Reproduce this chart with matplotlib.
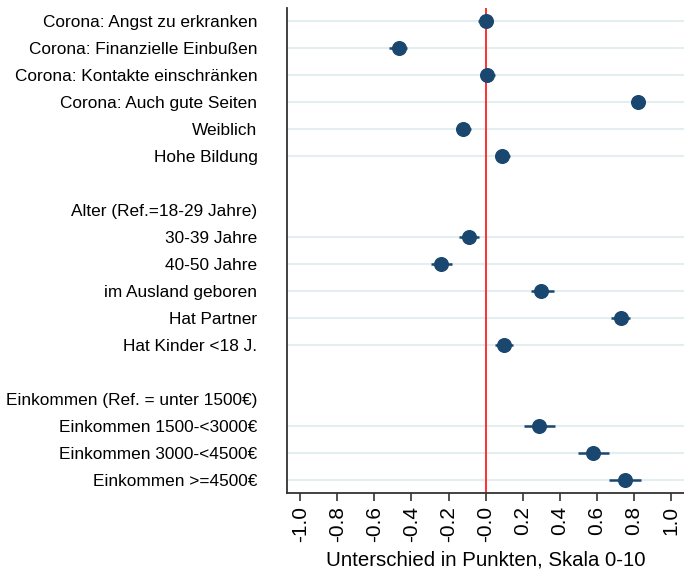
import numpy as np
import matplotlib.pyplot as plt

plt.rcParams['font.family'] = ['Liberation Sans', 'DejaVu Sans']

labels = ['Corona: Angst zu erkranken', 'Corona: Finanzielle Einbußen',
          'Corona: Kontakte einschränken', 'Corona: Auch gute Seiten',
          'Weiblich', 'Hohe Bildung', '',
          'Alter (Ref.=18-29 Jahre)', '30-39 Jahre', '40-50 Jahre',
          'im Ausland geboren', 'Hat Partner', 'Hat Kinder <18 J.', '',
          'Einkommen (Ref. = unter 1500€)', 'Einkommen 1500-<3000€',
          'Einkommen 3000-<4500€', 'Einkommen >=4500€']

# None = header / blank row
coef = [0.00, -0.47, 0.01, 0.82, -0.12, 0.09, None,
        None, -0.09, -0.24, 0.30, 0.73, 0.10, None,
        None, 0.29, 0.58, 0.75]
ci_lo = [-0.04, -0.52, -0.027, 0.785, -0.16, 0.054, None,
         None, -0.142, -0.296, 0.245, 0.675, 0.05, None,
         None, 0.207, 0.50, 0.668]
ci_hi = [0.03, -0.425, 0.05, 0.86, -0.08, 0.129, None,
         None, -0.034, -0.18, 0.37, 0.78, 0.147, None,
         None, 0.374, 0.667, 0.839]

navy = '#1a476f'

fig = plt.figure(figsize=(6.84, 5.70), dpi=100)
ax = fig.add_axes([0.42, 0.135, 0.58, 0.851])

pos = np.arange(len(labels))
idx = [i for i, c in enumerate(coef) if c is not None]
y = pos[idx]
c = np.array([coef[i] for i in idx])
lo = np.array([ci_lo[i] for i in idx])
hi = np.array([ci_hi[i] for i in idx])

for yy in y:
    ax.axhline(yy, color='#e4eef0', lw=1.5, zorder=0)

ax.axvline(0, color='#ff2020', lw=1.3, zorder=1)
ax.hlines(y, lo, hi, color=navy, lw=1.8, zorder=2)
ax.plot(c, y, 'o', color=navy, ms=9.8, zorder=3)

ax.set_xlim(-1.07, 1.07)
ax.set_ylim(len(labels) - 0.5, -0.5)
ax.set_yticks(pos)
ax.set_yticklabels(labels, fontsize=12.4)
ax.tick_params(axis='y', length=0, pad=21.5)
ticks = np.round(np.arange(-1.0, 1.01, 0.2), 1)
ax.set_xticks(ticks)
ax.set_xticklabels(['%.1f' % t for t in ticks], rotation=90, fontsize=15)
ax.tick_params(axis='x', length=6, width=1.2, color='#333333')
ax.set_xlabel('Unterschied in Punkten, Skala 0-10', fontsize=14.7, labelpad=5.5)

for s in ['top', 'right']:
    ax.spines[s].set_visible(False)
for s in ['left', 'bottom']:
    ax.spines[s].set_color('#333333')
    ax.spines[s].set_linewidth(1.3)

fig.savefig('out.png', dpi=100)
